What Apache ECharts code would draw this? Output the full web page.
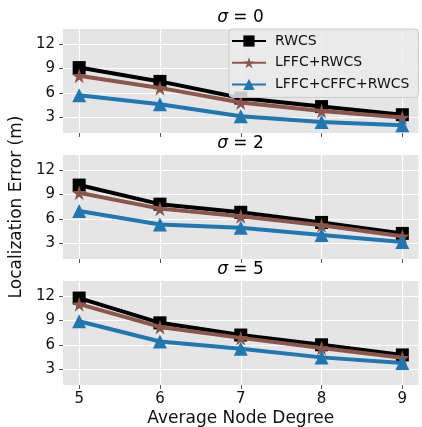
<!DOCTYPE html>
<html>
<head>
<meta charset="utf-8">
<script src="https://cdn.jsdelivr.net/npm/echarts@6/dist/echarts.min.js"></script>
<style>
html, body { margin: 0; padding: 0; background: #fff; }
#graph { width: 422px; height: 427px; }
</style>
</head>
<body>
<div id="graph"></div>
<script>
const degrees = [5, 6, 7, 8, 9];
const yTicks = [3, 6, 9, 12];
const sigmas = [0, 2, 5];
const seriesNames = ['RWCS', 'LFFC+RWCS', 'LFFC+CFFC+RWCS'];
// one row per panel: sigma = 0, 2, 5
const rwcs = [
  [9.1, 7.4, 5.35, 4.3, 3.3],
  [10.15, 7.8, 6.8, 5.55, 4.2],
  [11.75, 8.7, 7.2, 6.0, 4.75]
];
const lffcRwcs = [
  [8.1, 6.6, 4.8, 3.75, 2.95],
  [9.2, 7.25, 6.3, 5.2, 3.85],
  [11.0, 8.2, 6.85, 5.6, 4.4]
];
const lffcCffcRwcs = [
  [5.7, 4.6, 3.1, 2.4, 2.0],
  [6.95, 5.3, 4.9, 4.0, 3.15],
  [8.9, 6.4, 5.5, 4.45, 3.75]
];

const colors = ['#000000', '#8c564b', '#1f77b4'];
const starPath = 'path://M50,0 L61,35 L98,35 L68,57 L79,91 L50,70 L21,91 L32,57 L2,35 L39,35 Z';
const symbols = ['rect', starPath, 'triangle'];
const symbolSizes = [13, 15, 14];
const allData = [rwcs, lffcRwcs, lffcCffcRwcs];

const gridTops = [29, 155, 281];
const gridH = 104;
const font = 'DejaVu Sans';

var myChart = echarts.init(document.getElementById('graph'));

let grids = [], xAxes = [], yAxes = [], titles = [], series = [];
for (let p = 0; p < 3; p++) {
  grids.push({
    left: 63, right: 3.5, top: gridTops[p], height: gridH,
    show: true, backgroundColor: '#e5e5e5', borderWidth: 0,
    outerBoundsMode: 'none'
  });
  titles.push({
    text: '{i|σ} = ' + sigmas[p],
    left: 240.5, top: gridTops[p] - 20, textAlign: 'center', padding: 0,
    textStyle: {
      fontFamily: font, fontSize: 17, fontWeight: 'normal', color: '#000',
      rich: { i: { fontFamily: font, fontSize: 17, fontStyle: 'italic', color: '#000' } }
    }
  });
  xAxes.push({
    type: 'value', gridIndex: p, min: 4.8, max: 9.2,
    axisLine: { show: false },
    axisTick: { show: true, length: 4, lineStyle: { color: '#555' }, customValues: degrees },
    axisLabel: {
      show: p === 2, customValues: degrees, margin: 7,
      fontFamily: font, fontSize: 15, color: '#111'
    },
    splitLine: { show: true, lineStyle: { color: '#fff', width: 1.2 } },
    name: p === 2 ? 'Average Node Degree' : '',
    nameLocation: 'middle', nameGap: 25,
    nameTextStyle: { fontFamily: font, fontSize: 17, color: '#111' }
  });
  yAxes.push({
    type: 'value', gridIndex: p, min: 1.05, max: 13.85,
    axisLine: { show: false },
    axisTick: { show: true, length: 4, lineStyle: { color: '#555' }, customValues: yTicks },
    axisLabel: {
      customValues: yTicks, margin: 8,
      fontFamily: font, fontSize: 15, color: '#111'
    },
    splitLine: { show: true, lineStyle: { color: '#fff', width: 1.2 } },
    name: p === 1 ? 'Localization Error (m)' : '',
    nameLocation: 'middle', nameGap: 29,
    nameTextStyle: { fontFamily: font, fontSize: 17, color: '#111' }
  });
  for (let s = 0; s < 3; s++) {
    series.push({
      name: seriesNames[s], type: 'line',
      xAxisIndex: p, yAxisIndex: p,
      data: degrees.map((d, i) => [d, allData[s][p][i]]),
      symbol: symbols[s], symbolSize: symbolSizes[s], showAllSymbol: true,
      color: colors[s],
      lineStyle: { color: colors[s], width: 4 },
      itemStyle: { color: colors[s] },
      z: 2 + s,
      animation: false
    });
  }
}

myChart.setOption({
  animation: false,
  title: titles,
  legend: {
    data: seriesNames,
    left: 229, top: 29,
    orient: 'vertical',
    itemWidth: 34, itemHeight: 14, itemGap: 7.7,
    padding: [5, 9, 6, 2],
    backgroundColor: 'rgba(235,235,235,0.85)',
    borderColor: '#cccccc', borderWidth: 1, borderRadius: 4,
    textStyle: { fontFamily: font, fontSize: 14, color: '#111', padding: [0, 0, 0, 4] },
    z: 10
  },
  grid: grids,
  xAxis: xAxes,
  yAxis: yAxes,
  series: series
});
</script>
</body>
</html>
